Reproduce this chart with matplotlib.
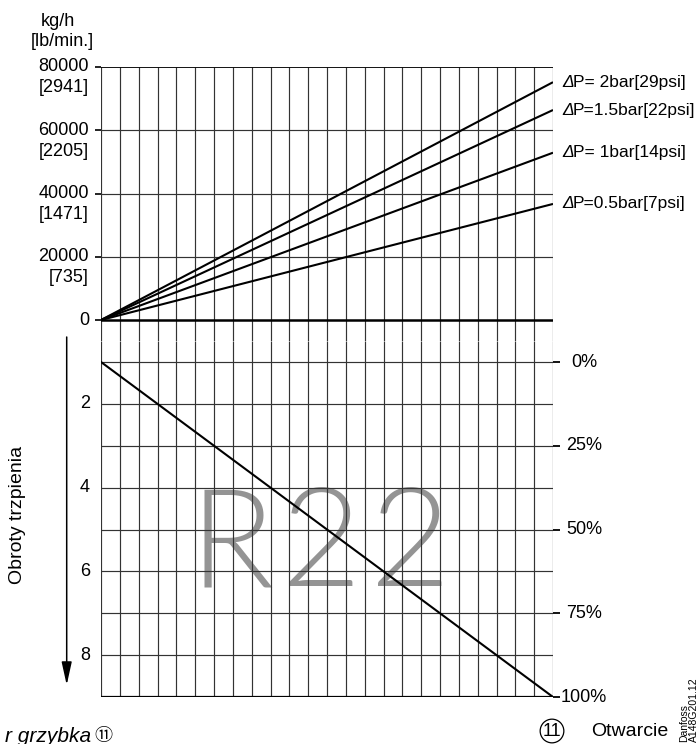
"""
Danfoss valve capacity chart (R22): mass flow vs. spindle turns / opening.

Saves to:
  out.png
"""

import matplotlib
matplotlib.use("Agg")
import matplotlib.pyplot as plt

plt.rcParams["font.family"] = ["Liberation Sans", "DejaVu Sans"]

W, H = 699, 744

# x grid: spindle turns scale divided into 24 columns
N_COLS = 24

# top panel: mass flow kg/h with lb/min equivalents
FLOW_TICKS = [0, 20000, 40000, 60000, 80000]
FLOW_LABELS = ["0", "20000", "40000", "60000", "80000"]
FLOW_LB = ["", "[735]", "[1471]", "[2205]", "[2941]"]

# pressure-drop lines, start at origin, value at right edge
DP_LABELS = [
    "P= 2bar[29psi]",
    "P=1.5bar[22psi]",
    "P= 1bar[14psi]",
    "P=0.5bar[7psi]",
]
DP_END = [75200, 66400, 52900, 36700]

# bottom panel: spindle turns vs. opening
TURN_TICKS = [2, 4, 6, 8]
TURN_START, TURN_END = 1, 9
OPEN_POS = [1, 3, 5, 7, 9]
OPEN_LABELS = ["0%", "25%", "50%", "75%", "100%"]


def box(x0, y0, x1, y1):
    """Pixel box (top-left origin) -> figure fraction rect."""
    return [x0 / W, 1 - y1 / H, (x1 - x0) / W, (y1 - y0) / H]


def fpos(x, y):
    return x / W, 1 - y / H


def clean(ax):
    for s in ax.spines.values():
        s.set_visible(False)
    ax.set_xticks([])
    ax.tick_params(axis="y", left=False, right=False, labelleft=False, labelright=False)


fig = plt.figure(figsize=(W / 100, H / 100), dpi=100)

GRID = dict(color="0.2", linewidth=0.85, zorder=1)

# ---------------- top panel ----------------
ax1 = fig.add_axes(box(101, 67, 553, 341))
clean(ax1)
ax1.set_xlim(0, N_COLS)
ax1.set_ylim(-6640, 80000)
ax1.vlines(range(N_COLS + 1), -6640, 80000, **GRID)
ax1.hlines(FLOW_TICKS[1:-1], 0, N_COLS, **GRID)
ax1.axhline(80000, color="black", linewidth=1.3, zorder=2)
ax1.axhline(0, color="black", linewidth=1.8, zorder=2)
ax1.set_yticks(FLOW_TICKS)
ax1.tick_params(axis="y", left=True, length=4.5, width=1.2, color="black")

for v, lab, lb in zip(FLOW_TICKS, FLOW_LABELS, FLOW_LB):
    ax1.annotate(lab, xy=(0, v), xycoords=("axes fraction", "data"),
                 xytext=(-8.6, 0), textcoords="offset points",
                 ha="right", va="center", fontsize=13)
    if lb:
        ax1.annotate(lb, xy=(0, v), xycoords=("axes fraction", "data"),
                     xytext=(-8.6, -15), textcoords="offset points",
                     ha="right", va="center", fontsize=13)

for end, lab in zip(DP_END, DP_LABELS):
    ax1.plot([0, N_COLS], [0, end], color="black", linewidth=1.5, zorder=3,
             solid_capstyle="butt")
    # italic delta, then the rest of the label
    ax1.annotate("\u0394", xy=(N_COLS, end), xycoords="data",
                 xytext=(6.5, 0), textcoords="offset points", style="italic",
                 ha="left", va="center", fontsize=12.5, annotation_clip=False)
    ax1.annotate(lab, xy=(N_COLS, end), xycoords="data",
                 xytext=(14.2, 0), textcoords="offset points",
                 ha="left", va="center", fontsize=12.5, annotation_clip=False)

# ---------------- bottom panel ----------------
ax2 = fig.add_axes(box(101, 341, 553, 697))
clean(ax2)
ax2.set_xlim(0, N_COLS)
ax2.set_ylim(9, 0.4985)
ax2.vlines(range(N_COLS + 1), 0.4985, 9, **GRID)
ax2.hlines(range(TURN_START, TURN_END), 0, N_COLS, **GRID)
ax2.axhline(TURN_END, color="black", linewidth=1.6, zorder=2)
ax2.set_yticks(OPEN_POS)
ax2.tick_params(axis="y", right=True, length=5, width=1.3, color="black")
ax2.set_yticks([TURN_END], minor=True)
ax2.tick_params(axis="y", which="minor", left=True, right=False,
                length=5, width=1.6, color="black")

for v in TURN_TICKS:
    ax2.annotate(str(v), xy=(0, v), xycoords=("axes fraction", "data"),
                 xytext=(-8, 0), textcoords="offset points",
                 ha="right", va="center", fontsize=13)

for v, lab in zip(OPEN_POS, OPEN_LABELS):
    ax2.annotate(lab, xy=(1, v), xycoords=("axes fraction", "data"),
                 xytext=(22.3, 0), textcoords="offset points",
                 ha="center", va="center", fontsize=13, annotation_clip=False)

ax2.plot([0, N_COLS], [TURN_START, TURN_END], color="black", linewidth=1.5, zorder=3)

# big stippled refrigerant mark
for ch, x in zip("R22", [6.96, 11.71, 16.41]):
    ax2.text(x, 5.45, ch, fontsize=100, color="0.58", ha="center", va="center",
             family=["Lato", "Liberation Sans"], fontweight=300, zorder=0.5)

# ---------------- surrounding text ----------------
fig.text(*fpos(58, 21), "kg/h", ha="center", va="center", fontsize=13)
fig.text(*fpos(62, 42), "[lb/min.]", ha="center", va="center", fontsize=13)
fig.text(*fpos(18, 515), "Obroty trzpienia", rotation=90,
         ha="center", va="center", fontsize=14)

ax2.annotate("", xy=(66.7, H - 685), xycoords="figure pixels",
             xytext=(66.7, H - 337), textcoords="figure pixels",
             annotation_clip=False,
             arrowprops=dict(arrowstyle="-|>,head_length=1.0,head_width=0.22",
                             mutation_scale=14, color="black", lw=1.1,
                             shrinkA=0, shrinkB=0))

fig.text(*fpos(91, 736), "r grzybka", ha="right", va="center", fontsize=15,
         style="italic")
fig.text(*fpos(103, 736), "\u246a", ha="center", va="center", fontsize=13,
         family=["Noto Sans CJK JP", "DejaVu Sans"])

fig.text(*fpos(552, 731), "11", ha="center", va="center", fontsize=13,
         bbox=dict(boxstyle="circle,pad=0.14", fc="none", ec="black", lw=0.9))
fig.text(*fpos(591, 731), "Otwarcie", ha="left", va="center", fontsize=14)
fig.text(*fpos(689, 742), "Danfoss\nA148G201.12", rotation=90,
         rotation_mode="anchor", ha="left", va="center", fontsize=7.5,
         linespacing=1.0)

fig.savefig("out.png", dpi=100)
